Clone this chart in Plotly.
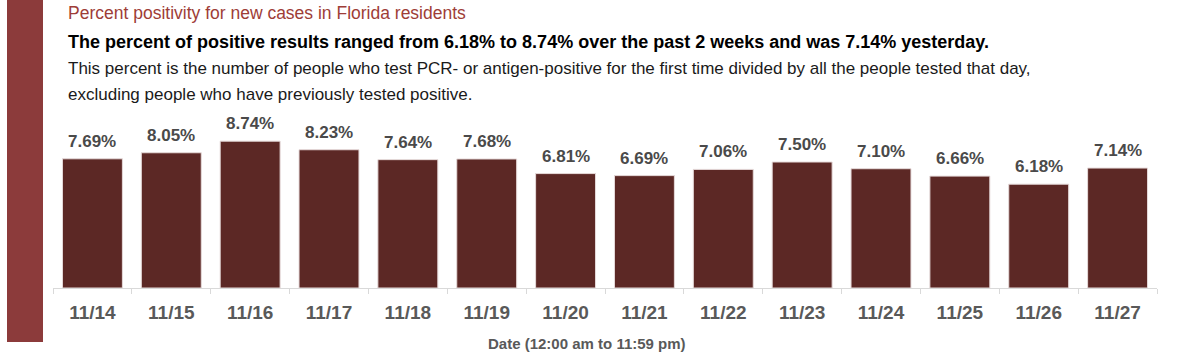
import plotly.graph_objects as go

dates = ["11/14", "11/15", "11/16", "11/17", "11/18", "11/19", "11/20",
         "11/21", "11/22", "11/23", "11/24", "11/25", "11/26", "11/27"]
positivity = [7.69, 8.05, 8.74, 8.23, 7.64, 7.68, 6.81,
              6.69, 7.06, 7.50, 7.10, 6.66, 6.18, 7.14]

title_text = "Percent positivity for new cases in Florida residents"
subtitle_text = ("The percent of positive results ranged from 6.18% to 8.74% over the past 2 weeks "
                 "and was 7.14% yesterday.")
desc_line1 = ("This percent is the number of people who test PCR- or antigen-positive for the first time "
              "divided by all the people tested that day,")
desc_line2 = "excluding people who have previously tested positive."
xaxis_title = "Date (12:00 am to 11:59 pm)"

W, H = 1200, 359
ML, MR, MT, MB = 53, 43, 120, 71
PW = W - ML - MR
PH = H - MT - MB
BASE = H - MB  # pixel y of plot bottom


def px_x(x):
    return (x - ML) / PW


def px_y(y):
    return (BASE - y) / PH


FONT = "Liberation Sans, Arial, sans-serif"

fig = go.Figure()
fig.add_trace(go.Bar(
    x=dates, y=positivity,
    marker=dict(color="#5C2825", line=dict(color="#E6DADA", width=1)),
    hoverinfo="x+y",
))

annotations = []
for d, v in zip(dates, positivity):
    annotations.append(dict(
        x=d, y=v, xref="x", yref="y", text=f"<b>{v:.2f}%</b>", showarrow=False,
        yanchor="bottom", yshift=6,
        font=dict(family=FONT, size=17, color="#4A4A4A"),
    ))

annotations += [
    dict(x=px_x(66), y=px_y(13), xref="paper", yref="paper", xanchor="left", yanchor="middle",
         text=title_text, showarrow=False, font=dict(family=FONT, size=17.5, color="#9E3D37")),
    dict(x=px_x(66), y=px_y(42), xref="paper", yref="paper", xanchor="left", yanchor="middle",
         text=f"<b>{subtitle_text}</b>", showarrow=False, font=dict(family=FONT, size=18, color="#000000")),
    dict(x=px_x(66), y=px_y(68), xref="paper", yref="paper", xanchor="left", yanchor="middle",
         text=desc_line1, showarrow=False, font=dict(family=FONT, size=17, color="#1A1A1A")),
    dict(x=px_x(66), y=px_y(94), xref="paper", yref="paper", xanchor="left", yanchor="middle",
         text=desc_line2, showarrow=False, font=dict(family=FONT, size=17, color="#1A1A1A")),
    dict(x=px_x(587), y=px_y(343), xref="paper", yref="paper", xanchor="center", yanchor="middle",
         text=f"<b>{xaxis_title}</b>", showarrow=False, font=dict(family=FONT, size=15, color="#595959")),
]

fig.update_layout(
    width=W, height=H, autosize=False,
    margin=dict(l=ML, r=MR, t=MT, b=MB, pad=0),
    paper_bgcolor="white", plot_bgcolor="white",
    bargap=0.24,
    showlegend=False,
    annotations=annotations,
    shapes=[dict(type="rect", xref="paper", yref="paper",
                 x0=px_x(7), x1=px_x(43), y0=px_y(342), y1=px_y(0),
                 fillcolor="#8C3B3B", line=dict(width=0), layer="above")],
    xaxis=dict(
        type="category", showgrid=False, zeroline=False,
        showline=True, linecolor="#D9D9D9", linewidth=1,
        ticks="outside", tickson="boundaries", ticklen=5, tickcolor="#D9D9D9",
        ticklabelstandoff=7,
        tickfont=dict(family=FONT, size=19, color="#595959", weight="bold"),
    ),
    yaxis=dict(range=[0, 10], visible=False, fixedrange=True),
)

fig.write_html(
    "out.html",
    config={"displayModeBar": False},
    post_script="document.body.style.margin='0';document.body.style.overflow='hidden';",
)
